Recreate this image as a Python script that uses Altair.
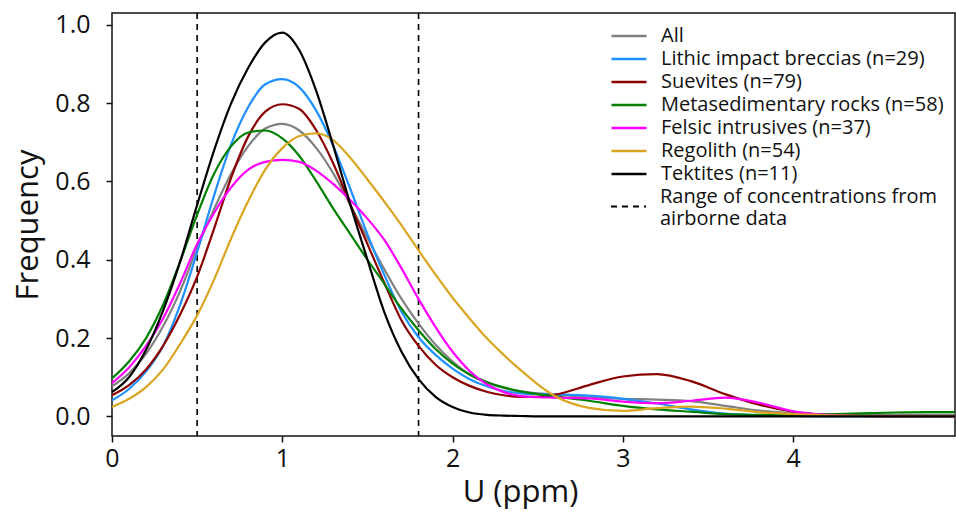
import altair as alt
import pandas as pd

# ---- data ----
u_ppm = [0.0, 0.1, 0.2, 0.3, 0.4, 0.5, 0.6, 0.7, 0.8, 0.9,
         1.0, 1.1, 1.2, 1.3, 1.4, 1.5, 1.6, 1.7, 1.8, 1.9,
         2.0, 2.1, 2.2, 2.3, 2.4, 2.5, 2.6,
         2.8, 3.0, 3.2, 3.4, 3.6, 3.8, 4.0, 4.2, 4.4, 4.6, 4.8, 4.95]

freq_all = [0.077, 0.11, 0.16, 0.23, 0.32, 0.43, 0.53, 0.62, 0.69, 0.735,
            0.747, 0.73, 0.685, 0.62, 0.54, 0.455, 0.375, 0.30, 0.237, 0.183,
            0.14, 0.107, 0.086, 0.073, 0.064, 0.059, 0.056,
            0.049, 0.045, 0.043, 0.039, 0.027, 0.015, 0.008, 0.005, 0.004, 0.004, 0.004, 0.004]
freq_lithic = [0.041, 0.07, 0.115, 0.18, 0.285, 0.42, 0.565, 0.695, 0.79, 0.848,
               0.861, 0.84, 0.78, 0.69, 0.58, 0.465, 0.36, 0.267, 0.202, 0.157,
               0.122, 0.095, 0.077, 0.065, 0.059, 0.057, 0.056,
               0.053, 0.045, 0.033, 0.018, 0.007, 0.003, 0.001, 0.0, 0.0, 0.0, 0.0, 0.0]
freq_suevites = [0.054, 0.08, 0.12, 0.18, 0.26, 0.357, 0.48, 0.61, 0.715, 0.778,
                 0.797, 0.785, 0.73, 0.645, 0.54, 0.44, 0.34, 0.245, 0.18, 0.132,
                 0.10, 0.078, 0.063, 0.054, 0.05, 0.05, 0.055,
                 0.08, 0.102, 0.108, 0.09, 0.057, 0.03, 0.012, 0.004, 0.001, 0.0, 0.0, 0.0]
freq_metased = [0.097, 0.14, 0.20, 0.285, 0.395, 0.515, 0.62, 0.69, 0.725, 0.73,
                0.71, 0.665, 0.60, 0.53, 0.465, 0.40, 0.338, 0.275, 0.22, 0.172,
                0.135, 0.107, 0.088, 0.074, 0.064, 0.057, 0.051,
                0.04, 0.027, 0.018, 0.012, 0.006, 0.004, 0.003, 0.005, 0.008, 0.01, 0.011, 0.011]
freq_felsic = [0.085, 0.125, 0.18, 0.25, 0.34, 0.44, 0.52, 0.585, 0.63, 0.65,
               0.655, 0.65, 0.627, 0.593, 0.552, 0.505, 0.45, 0.378, 0.3, 0.228,
               0.165, 0.116, 0.082, 0.062, 0.052, 0.049, 0.048,
               0.046, 0.038, 0.034, 0.04, 0.048, 0.035, 0.013, 0.004, 0.001, 0.0, 0.0, 0.0]
freq_regolith = [0.024, 0.045, 0.075, 0.12, 0.185, 0.258, 0.35, 0.455, 0.55, 0.63,
                 0.685, 0.716, 0.723, 0.705, 0.66, 0.605, 0.548, 0.488, 0.424, 0.362,
                 0.303, 0.25, 0.20, 0.157, 0.118, 0.082, 0.052,
                 0.022, 0.014, 0.021, 0.025, 0.02, 0.011, 0.006, 0.003, 0.001, 0.0, 0.0, 0.0]
freq_tektites = [0.062, 0.10, 0.17, 0.27, 0.395, 0.54, 0.68, 0.80, 0.89, 0.955,
                 0.98, 0.935, 0.83, 0.69, 0.54, 0.40, 0.265, 0.165, 0.095, 0.05,
                 0.024, 0.01, 0.004, 0.002, 0.001, 0.0, 0.0,
                 0.0, 0.0, 0.0, 0.0, 0.0, 0.0, 0.0, 0.0, 0.0, 0.0, 0.0, 0.0]

series_names = ["All",
                "Lithic impact breccias (n=29)",
                "Suevites (n=79)",
                "Metasedimentary rocks (n=58)",
                "Felsic intrusives (n=37)",
                "Regolith (n=54)",
                "Tektites (n=11)"]
series_values = [freq_all, freq_lithic, freq_suevites, freq_metased,
                 freq_felsic, freq_regolith, freq_tektites]
series_colors = ["#808080", "#1E90FF", "#8B0000", "#008000",
                 "#FF00FF", "#DAA520", "#000000"]

range_label = "Range of concentrations from airborne data"
range_bounds = [0.5, 1.8]

x_ticks = [0, 1, 2, 3, 4]
y_ticks = [0.0, 0.2, 0.4, 0.6, 0.8, 1.0]

# ---- tables ----
rows = []
for k, (name, vals) in enumerate(zip(series_names, series_values)):
    for x, y in zip(u_ppm, vals):
        rows.append({"u": x, "freq": y, "series": name, "k": k})
curves = pd.DataFrame(rows)
ranges = pd.DataFrame({"u": range_bounds, "series": [range_label] * len(range_bounds)})

FONT = "Open Sans"

color_legend = alt.Legend(
    title=None, orient="none", legendX=498, legendY=13,
    symbolType="stroke", symbolSize=1225, symbolStrokeWidth=2.5,
    labelFont=FONT, labelFontSize=20, labelColor="#111", labelLimit=0,
    labelOffset=13, rowPadding=3, padding=0, clipHeight=20,
)
dash_legend = alt.Legend(
    title=None, orient="none", legendX=498, legendY=175,
    symbolType="stroke", symbolSize=1225, symbolStrokeWidth=2,
    symbolStrokeColor="#000000",
    labelFont=FONT, labelFontSize=20, labelColor="#111", labelLimit=0,
    labelOffset=13, padding=0, labelBaseline="bottom",
    labelExpr=("datum.label == '" + range_label +
               "' ? ['Range of concentrations from', 'airborne data'] : datum.label"),
)

x_scale = alt.Scale(domain=[0, 4.95], nice=False, zero=False)
y_scale = alt.Scale(domain=[-0.05, 1.03], nice=False, zero=False)

lines = alt.Chart(curves).mark_line(strokeWidth=2.2, interpolate="monotone").encode(
    x=alt.X("u:Q", scale=x_scale,
            axis=alt.Axis(title="U (ppm)", values=x_ticks, format="d", titleX=408)),
    y=alt.Y("freq:Q", scale=y_scale,
            axis=alt.Axis(title="Frequency", values=y_ticks, format=".1f")),
    color=alt.Color("series:N",
                    scale=alt.Scale(domain=series_names, range=series_colors),
                    legend=color_legend),
    order=alt.Order("k:Q"),
)

rules = alt.Chart(ranges).mark_rule(strokeWidth=1.6, color="#000000").encode(
    x=alt.X("u:Q", scale=x_scale),
    strokeDash=alt.StrokeDash("series:N",
                              scale=alt.Scale(domain=[range_label], range=[[6, 5]]),
                              legend=dash_legend),
)

chart = (
    alt.layer(rules, lines)
    .properties(width=843, height=423, autosize=alt.AutoSizeParams(type="none"),
                padding={"left": 112, "top": 13, "right": 1, "bottom": 86})
    .configure_view(stroke="#111", strokeWidth=1.5)
    .configure_axis(
        grid=False, domain=False, labelFlush=False,
        ticks=True, tickSize=6, tickWidth=1.5, tickColor="#111",
        labelFont=FONT, labelFontSize=25, labelColor="#111",
        titleFont=FONT, titleFontSize=31, titleFontWeight="normal", titleColor="#111",
    )
    .configure_axisX(labelPadding=4, titlePadding=6)
    .configure_axisY(labelPadding=16, titlePadding=10)
)

chart.save("out.html", embed_options={"renderer": "svg", "actions": False})
